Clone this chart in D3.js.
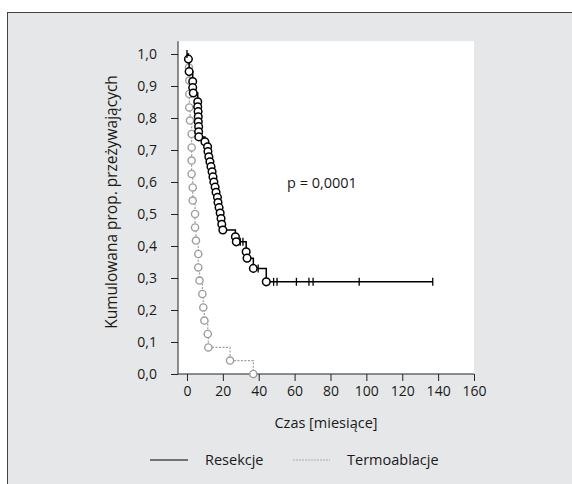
<!DOCTYPE html>
<html>
<head>
<meta charset="utf-8">
<script src="https://cdn.jsdelivr.net/npm/d3@7"></script>
<style>
  body { margin: 0; background: #fff; }
  svg text { font-family: "Open Sans", "DejaVu Sans", sans-serif; fill: #1a1a1a; }
  .axis path, .axis line { stroke: #222; stroke-width: 1px; }
  .axis text { font-size: 14px; }
</style>
</head>
<body>
<div id="chart"></div>
<script>
// Resekcje: events (time in months, survival after the event)
const resekcjeTime = [0.8, 1.2, 3.2, 3.2, 3.5, 6, 6, 6.2, 6.3, 6.3, 6.5, 6.5, 6.6,
  10, 11.5, 11.7, 12.2, 12.8, 13.4, 14, 14.5, 15, 15.7, 16.2, 17, 17.3, 17.9, 18.5, 19, 19.4, 20,
  27, 27.5, 33, 33.5, 37, 44.2];
const resekcjeSurv = [0.984, 0.945, 0.914, 0.895, 0.878, 0.851, 0.835, 0.820, 0.804, 0.788, 0.773, 0.757, 0.741,
  0.726, 0.710, 0.695, 0.679, 0.663, 0.648, 0.632, 0.616, 0.600, 0.584, 0.568, 0.552, 0.536, 0.520, 0.503, 0.486, 0.468, 0.450,
  0.429, 0.413, 0.382, 0.362, 0.330, 0.288];
// Resekcje: censored observations
const resekcjeCensTime = [0, 29.7, 31.2, 39.7, 48.3, 50.2, 61, 68, 70.3, 96, 137];

// Termoablacje: events
const termoTime = [1.1, 1.3, 1.3, 1.3, 1.7, 2.6, 2.6, 2.6, 2.6, 3.2, 3.2, 4.5, 4.5, 5, 6.3, 6.3, 7, 8.6, 9.1, 9.7, 11.6, 11.9, 24, 37];
const termoSurv = [0.958, 0.917, 0.875, 0.833, 0.792, 0.750, 0.708, 0.667, 0.625, 0.583, 0.542, 0.500, 0.458, 0.417,
  0.375, 0.333, 0.292, 0.250, 0.208, 0.167, 0.125, 0.083, 0.042, 0.0];

const xTicks = [0, 20, 40, 60, 80, 100, 120, 140, 160];
const yTicks = [0, 0.1, 0.2, 0.3, 0.4, 0.5, 0.6, 0.7, 0.8, 0.9, 1.0];
const pLabel = "p = 0,0001";
const legendLabels = ["Resekcje", "Termoablacje"];

const width = 572, height = 484;
const fmt = d => d.toFixed(1).replace(".", ",");

const svg = d3.select("#chart").append("svg")
  .attr("width", width)
  .attr("height", height);

// outer panel
svg.append("rect")
  .attr("x", 7.5).attr("y", 12.5)
  .attr("width", 600).attr("height", 500)
  .attr("fill", "#e6e7e8")
  .attr("stroke", "#444")
  .attr("stroke-width", 1);

const x = d3.scaleLinear().domain([-5, 160]).range([178, 474]);
const y = d3.scaleLinear().domain([0, 1]).range([374, 54]);
const yTop = y(1.04);

// white plotting area
svg.append("rect")
  .attr("x", x(-5)).attr("y", yTop)
  .attr("width", x(160) - x(-5)).attr("height", y(0) - yTop)
  .attr("fill", "#fff");

// axes
const gx = svg.append("g")
  .attr("class", "axis")
  .attr("transform", "translate(0," + y(0) + ")")
  .call(d3.axisBottom(x).tickValues(xTicks).tickSize(7).tickPadding(5).tickSizeOuter(0));
gx.select(".domain").attr("d", "M" + x(-5) + ",0H" + x(160));

const gy = svg.append("g")
  .attr("class", "axis")
  .attr("transform", "translate(" + x(-5) + ",0)")
  .call(d3.axisLeft(y).tickValues(yTicks).tickFormat(fmt).tickSize(7).tickPadding(14).tickSizeOuter(0));
gy.select(".domain").attr("d", "M0," + yTop + "V" + y(0));

// axis titles
svg.append("text")
  .attr("x", (x(-5) + x(160)) / 2)
  .attr("y", 428)
  .attr("text-anchor", "middle")
  .attr("font-size", 14.5)
  .text("Czas [miesiące]");

svg.append("text")
  .attr("transform", "translate(117," + 202 + ") rotate(-90)")
  .attr("text-anchor", "middle")
  .attr("font-size", 15.5)
  .text("Kumulowana prop. przeżywających");

svg.append("text")
  .attr("x", 287).attr("y", 188)
  .attr("font-size", 14.5)
  .text(pLabel);

// build step curves
function kmPoints(times, surv, censTimes) {
  const pts = [[0, 1]];
  times.forEach((t, i) => pts.push([t, surv[i]]));
  let last = pts[pts.length - 1];
  const cens = (censTimes || []).map(t => {
    // survival at censor time = last event at or before it
    let s = 1;
    times.forEach((tt, i) => { if (tt <= t) s = surv[i]; });
    return [t, s];
  });
  if (cens.length && cens[cens.length - 1][0] > last[0]) pts.push(cens[cens.length - 1]);
  return { pts, cens };
}

const line = d3.line()
  .x(d => x(d[0]))
  .y(d => y(d[1]))
  .curve(d3.curveStepAfter);

// Termoablacje (grey, dashed)
const termo = kmPoints(termoTime, termoSurv, []);
svg.append("path")
  .attr("d", line(termo.pts))
  .attr("fill", "none")
  .attr("stroke", "#9d9d9d")
  .attr("stroke-width", 1.2)
  .attr("stroke-dasharray", "2,1.5");
svg.append("g").selectAll("circle")
  .data(termoTime.map((t, i) => [t, termoSurv[i]]))
  .join("circle")
  .attr("cx", d => x(d[0]))
  .attr("cy", d => y(d[1]))
  .attr("r", 3.6)
  .attr("fill", "#fff")
  .attr("stroke", "#9d9d9d")
  .attr("stroke-width", 1.4);

// Resekcje (black, solid)
const res = kmPoints(resekcjeTime, resekcjeSurv, resekcjeCensTime);
svg.append("path")
  .attr("d", line(res.pts))
  .attr("fill", "none")
  .attr("stroke", "#000")
  .attr("stroke-width", 1.5);
svg.append("g").selectAll("circle")
  .data(resekcjeTime.map((t, i) => [t, resekcjeSurv[i]]))
  .join("circle")
  .attr("cx", d => x(d[0]))
  .attr("cy", d => y(d[1]))
  .attr("r", 3.8)
  .attr("fill", "#fff")
  .attr("stroke", "#000")
  .attr("stroke-width", 1.5);
svg.append("g").selectAll("line")
  .data(res.cens)
  .join("line")
  .attr("x1", d => x(d[0])).attr("x2", d => x(d[0]))
  .attr("y1", d => y(d[1]) - 4).attr("y2", d => y(d[1]) + 4)
  .attr("stroke", "#000")
  .attr("stroke-width", 1.3);

// legend
const legend = svg.append("g").attr("transform", "translate(0,460)");
legend.append("line")
  .attr("x1", 150).attr("x2", 188)
  .attr("stroke", "#000").attr("stroke-width", 1.2);
legend.append("text")
  .attr("x", 205).attr("y", 5)
  .attr("font-size", 14.5)
  .text(legendLabels[0]);
legend.append("line")
  .attr("x1", 293).attr("x2", 330)
  .attr("stroke", "#aaa").attr("stroke-width", 1)
  .attr("stroke-dasharray", "2,1");
legend.append("text")
  .attr("x", 347).attr("y", 5)
  .attr("font-size", 14.5)
  .text(legendLabels[1]);
</script>
</body>
</html>
